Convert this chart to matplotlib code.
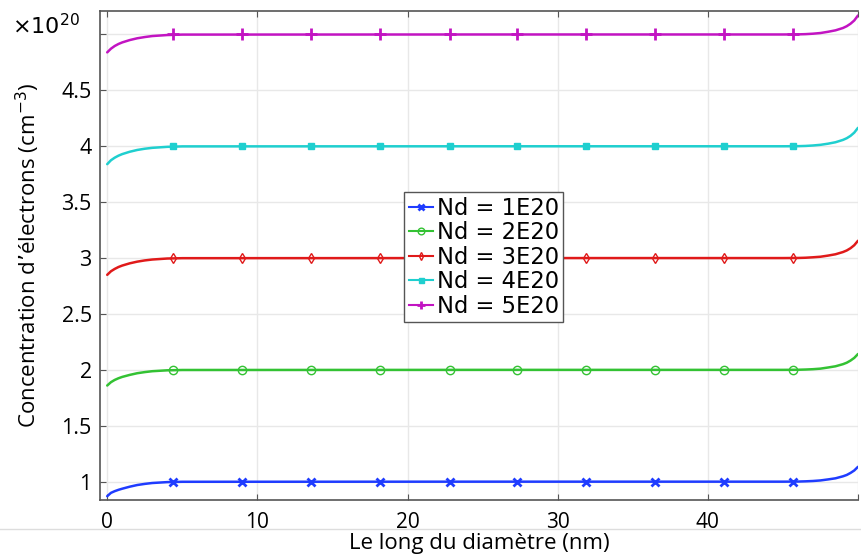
import matplotlib
matplotlib.use("Agg")
import matplotlib.pyplot as plt
from matplotlib.lines import Line2D

# ---- data ----
x_pos = [0, 0.25, 0.5, 0.75, 1, 1.5, 2, 2.5, 3, 4, 5, 25, 45, 46, 46.5, 47,
         47.5, 48, 48.5, 49, 49.25, 49.5, 49.75, 50]
n_1e20 = [0.870, 0.900, 0.915, 0.927, 0.937, 0.955, 0.970, 0.980, 0.988, 0.996,
          0.999, 1.000, 1.000, 1.001, 1.003, 1.006, 1.011, 1.020, 1.030, 1.048,
          1.060, 1.078, 1.100, 1.133]
n_2e20 = [1.860, 1.890, 1.910, 1.925, 1.937, 1.955, 1.970, 1.980, 1.988, 1.996,
          1.999, 2.000, 2.000, 2.001, 2.003, 2.006, 2.011, 2.021, 2.032, 2.051,
          2.064, 2.083, 2.107, 2.142]
n_3e20 = [2.850, 2.882, 2.903, 2.920, 2.933, 2.953, 2.968, 2.979, 2.987, 2.996,
          2.999, 3.000, 3.000, 3.001, 3.003, 3.007, 3.012, 3.022, 3.034, 3.054,
          3.068, 3.088, 3.115, 3.155]
n_4e20 = [3.840, 3.875, 3.898, 3.916, 3.930, 3.951, 3.967, 3.978, 3.986, 3.995,
          3.999, 4.000, 4.000, 4.001, 4.003, 4.007, 4.013, 4.023, 4.036, 4.057,
          4.072, 4.093, 4.122, 4.165]
n_5e20 = [4.840, 4.873, 4.897, 4.915, 4.929, 4.950, 4.966, 4.977, 4.986, 4.995,
          4.999, 5.000, 5.000, 5.001, 5.003, 5.007, 5.013, 5.024, 5.037, 5.058,
          5.074, 5.096, 5.125, 5.170]
marker_x = [4.4, 9.0, 13.6, 18.2, 22.8, 27.3, 31.9, 36.5, 41.1, 45.7]
nd_levels = [1.0, 2.0, 3.0, 4.0, 5.0]
labels = ["Nd = 1E20", "Nd = 2E20", "Nd = 3E20", "Nd = 4E20", "Nd = 5E20"]
x_ticks = [0, 10, 20, 30, 40, 50]
x_tick_labels = ["0", "10", "20", "30", "40", ""]
y_ticks = [1, 1.5, 2, 2.5, 3, 3.5, 4, 4.5, 5]
y_tick_labels = ["1", "1.5", "2", "2.5", "3", "3.5", "4", "4.5", ""]

series = [n_1e20, n_2e20, n_3e20, n_4e20, n_5e20]
colors = ["#1f3cff", "#33c233", "#e01a1a", "#1fcfcf", "#c214c2"]
markers = ["x", "o", "d", "s", "+"]
msizes = [6, 6, 5, 4.5, 8]
mfaces = [None, "none", "none", None, None]
mews = [2.0, 1.0, 1.0, 1.0, 2.0]

plt.rcParams["font.family"] = ["Open Sans", "DejaVu Sans"]

fig = plt.figure(figsize=(8.62, 5.58), dpi=100)
ax = fig.add_axes([100 / 862, 1 - 500 / 558, 758 / 862, 489 / 558])

handles = []
for ys, c, m, ms, mf, mew, lvl, lab in zip(series, colors, markers, msizes,
                                           mfaces, mews, nd_levels, labels):
    ax.plot(x_pos, ys, color=c, lw=1.8, solid_capstyle="round", zorder=3)
    kw = dict(marker=m, ms=ms, mew=mew, color=c, ls="none", zorder=4)
    if mf is not None:
        kw["mfc"] = mf
    ax.plot(marker_x, [lvl] * len(marker_x), **kw)
    hkw = dict(color=c, lw=1.5, marker=m, ms=ms * 0.8, mew=mew)
    if mf is not None:
        hkw["mfc"] = mf
    handles.append(Line2D([0], [0], **hkw))

ax.set_xlim(-0.48, 49.95)
ax.set_ylim(0.836, 5.21)
ax.set_xticks(x_ticks)
ax.set_xticklabels(x_tick_labels)
ax.set_yticks(y_ticks)
ax.set_yticklabels(y_tick_labels)
ax.tick_params(axis="both", direction="in", labelsize=15.5, length=4,
               color="#555555", top=True, pad=6)
ax.tick_params(axis="x", pad=9, labelsize=15)
ax.grid(True, color="#e8e8e8", lw=1.0, zorder=0)
ax.set_axisbelow(True)
for s in ["left", "bottom", "top"]:
    ax.spines[s].set_color("#555555")
    ax.spines[s].set_linewidth(1.2)
ax.spines["right"].set_visible(False)

ax.set_xlabel("Le long du diamètre (nm)", fontsize=16, labelpad=0)
ax.set_ylabel("Concentration d\u2019électrons (cm$^{-3}$)", fontsize=16,
              labelpad=14)

fig.text(12 / 862, 1 - 26 / 558, "\u00d710$^{20}$", fontsize=16,
         va="center", ha="left", family="DejaVu Sans")

leg = ax.legend(handles, labels, loc="upper left",
                bbox_to_anchor=((404 - 100) / 758, (500 - 192) / 489),
                borderaxespad=0, fancybox=False, framealpha=1,
                edgecolor="#555555", prop={"family": "DejaVu Sans", "size": 16.3},
                handlelength=1.1, handletextpad=0.15, labelspacing=0.07,
                borderpad=0.2)
leg.get_frame().set_linewidth(1.0)

fig.add_artist(Line2D([0, 1], [1 - 529 / 558, 1 - 529 / 558],
                      color="#dddddd", lw=1.0, transform=fig.transFigure))

fig.savefig("out.png", dpi=100)
